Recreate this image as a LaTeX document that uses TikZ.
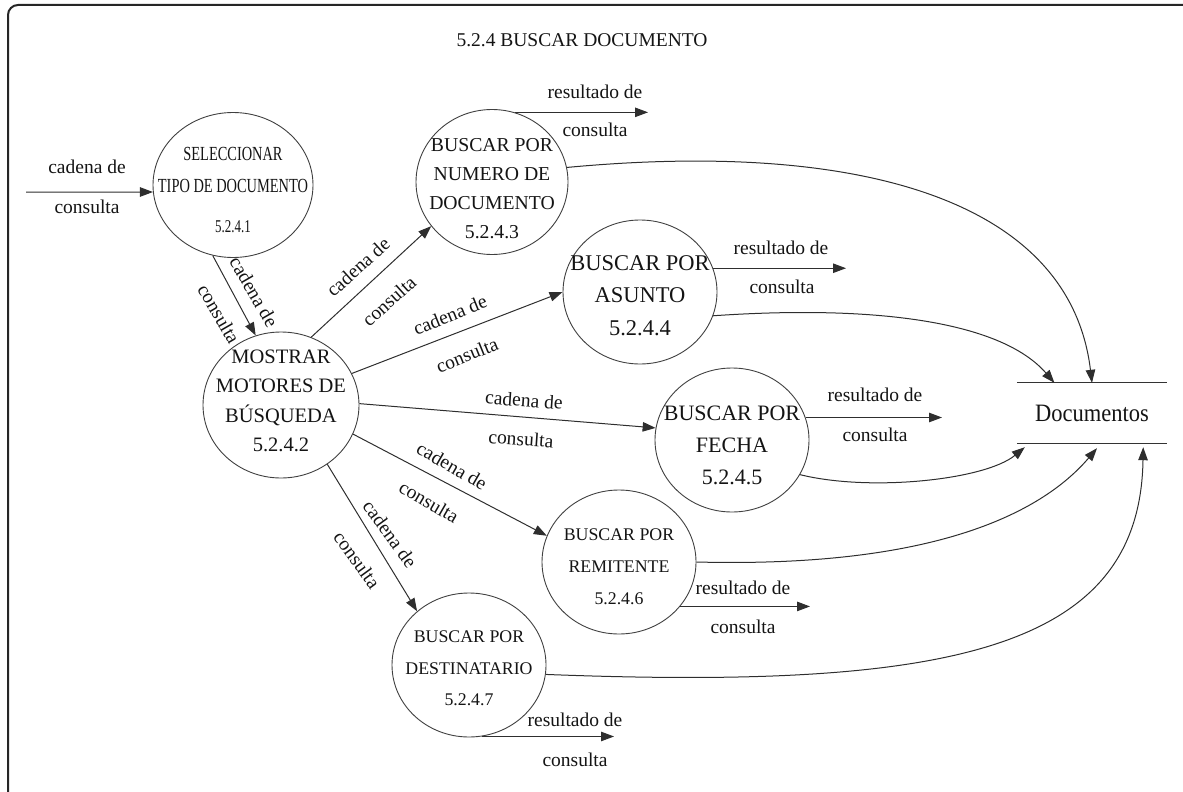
\documentclass[tikz,border=0pt]{standalone}
\usepackage{fontspec}
\setmainfont{Liberation Serif}
\newfontfamily\condfont[FakeStretch=0.72]{Liberation Serif}
\newfontfamily\docfont[FakeStretch=0.9]{Liberation Serif}
\usetikzlibrary{arrows.meta,shapes.geometric,calc}
\begin{document}
\begin{tikzpicture}[x=1pt,y=-1pt,
  proc/.style={ellipse, draw=black!75, line width=0.9pt, minimum width=154pt, minimum height=144pt, inner sep=0pt},
  ptext/.style={align=center, text=black!92, inner sep=0pt},
  flow/.style={draw=black!82, line width=1pt, -{Triangle[length=13pt,width=9.5pt]}},
  lbl/.style={font=\fontsize{19.5}{22}\selectfont, text=black!92, inner sep=0pt},
]
\useasboundingbox (0,0) rectangle (1183,792);
\clip (0,0) rectangle (1183,792);
\draw[black!85, line width=2pt, rounded corners=10pt] (8,5) rectangle (1196,802);

% title
\node[lbl] (title) at (582,40) {5.2.4 BUSCAR DOCUMENTO};

% processes
\node[proc, minimum width=160pt, minimum height=145pt] (c1) at (233,185) {};
\node[proc, minimum width=156pt, minimum height=146pt] (c2) at (281,405) {};
\node[proc, minimum width=152pt, minimum height=145pt] (c3) at (492,182) {};
\node[proc] (c4) at (640,292) {};
\node[proc] (c5) at (732,440) {};
\node[proc] (c6) at (619,562) {};
\node[proc] (c7) at (469,665) {};

\node[ptext, font=\condfont\fontsize{20}{32}\selectfont] (t1) at (233,190)
  {SELECCIONAR\\TIPO DE DOCUMENTO\\[8pt]{\fontsize{18}{20}\selectfont 5.2.4.1}};
\node[ptext, font=\fontsize{20.5}{29.5}\selectfont] (t2) at (281,401)
  {MOSTRAR\\MOTORES DE\\BÚSQUEDA\\5.2.4.2};
\node[ptext, font=\fontsize{19.7}{29}\selectfont] (t3) at (492,188.5)
  {BUSCAR POR\\NUMERO DE\\DOCUMENTO\\5.2.4.3};
\node[ptext, font=\fontsize{22.5}{32.5}\selectfont] (t4) at (640,295.5)
  {BUSCAR POR\\ASUNTO\\5.2.4.4};
\node[ptext, font=\fontsize{22}{32}\selectfont] (t5) at (732,445)
  {BUSCAR POR\\FECHA\\5.2.4.5};
\node[ptext, font=\fontsize{17.8}{32}\selectfont] (t6) at (619,567)
  {BUSCAR POR\\REMITENTE\\5.2.4.6};
\node[ptext, font=\fontsize{17.8}{31.5}\selectfont] (t7) at (469,668.5)
  {BUSCAR POR\\DESTINATARIO\\5.2.4.7};

% data store
\node[minimum width=150pt, minimum height=60pt, inner sep=0pt,
      font=\docfont\fontsize{25}{28}\selectfont, text=black!92] (docs) at (1092,413) {Documentos};
\draw[black!80, line width=1pt] (docs.north west) -- (docs.north east)
  (docs.south west) -- (docs.south east);

% input
\coordinate (in) at (26,192);
\draw[flow] (in) -- (c1.185);
\node[lbl] (l0a) at (87,167) {cadena de};
\node[lbl] (l0b) at (87,207) {consulta};

% c1 -> c2
\draw[flow] (c1.-106) -- (c2.110);
\node[lbl, rotate=-60] (l1a) at (254,292) {cadena de};
\node[lbl, rotate=-60] (l1b) at (219,314) {consulta};

% c2 -> c3
\draw[flow] (c2.66) -- (c3.216);
\node[lbl, rotate=42] (l2a) at (358,267) {cadena de};
\node[lbl, rotate=42] (l2b) at (389,301) {consulta};

% c2 -> c4
\draw[flow] (c2.24) -- (c4.180);
\node[lbl, rotate=22] (l3a) at (450,315) {cadena de};
\node[lbl, rotate=22] (l3b) at (467,355) {consulta};

% c2 -> c5
\draw[flow] (c2.1) -- (c5.171);
\node[lbl, rotate=-4] (l4a) at (524,400) {cadena de};
\node[lbl, rotate=-4] (l4b) at (521,439) {consulta};

% c2 -> c6
\draw[flow] (c2.-22) -- (c6.160);
\node[lbl, rotate=-30] (l5a) at (452,466) {cadena de};
\node[lbl, rotate=-30] (l5b) at (429,502) {consulta};

% c2 -> c7
\draw[flow] (c2.-52) -- (c7.134);
\node[lbl, rotate=-54] (l6a) at (390,534) {cadena de};
\node[lbl, rotate=-54] (l6b) at (357,560) {consulta};

% results
\coordinate (r3) at (648,0);
\draw[flow] (c3.72) -- (c3.72 -| r3);
\node[lbl] (r3a) at (595,92) {resultado de};
\node[lbl] (r3b) at (595,130) {consulta};

\coordinate (r4) at (846,0);
\draw[flow] (c4.18) -- (c4.18 -| r4);
\node[lbl] (r4a) at (781,248) {resultado de};
\node[lbl] (r4b) at (782,287) {consulta};

\coordinate (r5) at (942,0);
\draw[flow] (c5.17) -- (c5.17 -| r5);
\node[lbl] (r5a) at (875,395) {resultado de};
\node[lbl] (r5b) at (875,435) {consulta};

\coordinate (r6) at (810,0);
\draw[flow] (c6.-36) -- (c6.-36 -| r6);
\node[lbl] (r6a) at (743,588) {resultado de};
\node[lbl] (r6b) at (743,627) {consulta};

\coordinate (r7) at (614,0);
\draw[flow] (c7.-80) -- (c7.-80 -| r7);
\node[lbl] (r7a) at (575,720) {resultado de};
\node[lbl] (r7b) at (575,760) {consulta};

% to data store
\draw[flow] (c3.11) .. controls (860,140) and (1070,200) .. (docs.north);
\draw[flow] (c4.-18) .. controls (870,305) and (1000,320) .. ($(docs.north west)!0.25!(docs.north east)$);
\draw[flow] (c5.-27) .. controls (870,492) and (985,480) .. ($(docs.south west)+(8,4)$);
\draw[flow] (c6.0) .. controls (930,568) and (1040,515) .. ($(docs.south)+(5,5)$);
\draw[flow] (c7.-7) .. controls (950,690) and (1140,650) .. ($(docs.south east)+(-24,4)$);
\end{tikzpicture}
\end{document}
